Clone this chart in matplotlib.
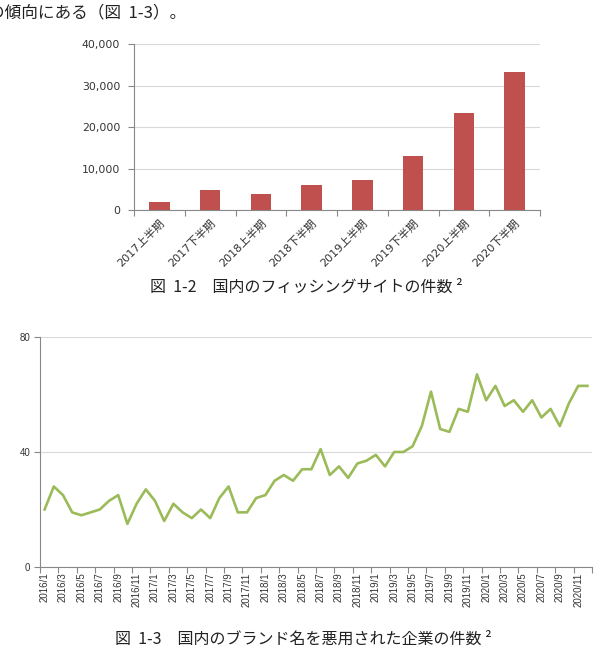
import matplotlib
matplotlib.use("Agg")
import matplotlib.pyplot as plt
import numpy as np

plt.rcParams['font.family'] = ['DejaVu Sans', 'Noto Sans CJK JP']

# ---- data: phishing sites (figure 1-2)
bar_labels = ["2017上半期", "2017下半期", "2018上半期", "2018下半期",
              "2019上半期", "2019下半期", "2020上半期", "2020下半期"]
bar_values = [1850, 4900, 3850, 6000, 7300, 13100, 23300, 33300]
bar_yticks = [0, 10000, 20000, 30000, 40000]

# ---- data: abused brand companies (figure 1-3), 2016/1 .. 2020/12
months = [f"{y}/{m}" for y in range(2016, 2021) for m in range(1, 13)]
brand_counts = [20, 28, 25, 19, 18, 19, 20, 23, 25, 15, 22, 27,
                23, 16, 22, 19, 17, 20, 17, 24, 28, 19, 19, 24,
                25, 30, 32, 30, 34, 34, 41, 32, 35, 31, 36, 37,
                39, 35, 40, 40, 42, 49, 61, 48, 47, 55, 54, 67,
                58, 63, 56, 58, 54, 58, 52, 55, 49, 57, 63, 63]
line_yticks = [0, 40, 80]

intro_text = "の傾向にある（図  1-3）。"
caption1 = "図  1-2　国内のフィッシングサイトの件数 ²"
caption2 = "図  1-3　国内のブランド名を悪用された企業の件数 ²"

W, H = 597, 654
fig = plt.figure(figsize=(W / 100, H / 100), dpi=100)

def fx(px):
    return px / W

def fy(py):
    return 1 - py / H

cjk = ['Noto Sans CJK JP', 'DejaVu Sans']

# intro text (partly cut at left, as in the source)
fig.text(fx(-12), fy(13), intro_text, fontsize=12, family=cjk,
         ha='left', va='center', color='#222222')

# ---------------- bar chart ----------------
ax1 = fig.add_axes([fx(134), fy(210), fx(540) - fx(134), fy(44.3) - fy(210)])
x = np.arange(len(bar_values))
ax1.bar(x, bar_values, width=0.4, color='#C0504D', zorder=3)
ax1.set_xlim(-0.5, len(bar_values) - 0.5)
ax1.set_ylim(0, 40000)
ax1.set_yticks(bar_yticks)
ax1.set_yticklabels([f"{v:,}" for v in bar_yticks], fontsize=7.8, color='#333333')
ax1.yaxis.grid(True, color='#D9D9D9', linewidth=0.8, zorder=0)
ax1.set_xticks(np.arange(len(bar_values) + 1) - 0.5)
ax1.set_xticklabels([])
ax1.set_xticks(x, minor=True)
ax1.set_xticklabels(bar_labels, minor=True, rotation=45, ha='right',
                    va='top', rotation_mode='anchor', fontsize=8,
                    color='#333333')
ax1.tick_params(axis='x', which='major', length=4, color='#888888')
ax1.tick_params(axis='x', which='minor', length=0, pad=6)
ax1.tick_params(axis='y', length=4, color='#888888', pad=6)
for s in ['top', 'right']:
    ax1.spines[s].set_visible(False)
for s in ['left', 'bottom']:
    ax1.spines[s].set_color('#888888')
    ax1.spines[s].set_linewidth(0.8)

fig.text(fx(306), fy(287), caption1, fontsize=11.5, family=cjk,
         ha='center', va='center', color='#222222')

# ---------------- line chart ----------------
ax2 = fig.add_axes([fx(40), fy(567), fx(592) - fx(40), fy(337) - fy(567)])
xi = np.arange(len(brand_counts))
ax2.plot(xi, brand_counts, color='#9BBB59', linewidth=1.9, zorder=3)
ax2.set_xlim(-0.5, len(brand_counts) - 0.5)
ax2.set_ylim(0, 80)
ax2.set_yticks(line_yticks)
ax2.set_yticklabels([str(v) for v in line_yticks], fontsize=7,
                    family=['Liberation Sans'], color='#333333')
ax2.yaxis.grid(True, color='#D9D9D9', linewidth=0.8, zorder=0)
ax2.set_xticks(np.arange(-0.5, len(brand_counts), 2))
ax2.set_xticklabels([])
ax2.set_xticks(xi[::2], minor=True)
ax2.set_xticklabels(months[::2], minor=True, rotation=90, fontsize=7,
                    family=['Liberation Sans'], color='#333333')
ax2.tick_params(axis='x', which='major', length=4, color='#888888')
ax2.tick_params(axis='x', which='minor', length=0, pad=4)
ax2.tick_params(axis='y', length=4, color='#888888', pad=3)
for s in ['top', 'right']:
    ax2.spines[s].set_visible(False)
for s in ['left', 'bottom']:
    ax2.spines[s].set_color('#888888')
    ax2.spines[s].set_linewidth(0.8)

fig.text(fx(303), fy(639), caption2, fontsize=11.5, family=cjk,
         ha='center', va='center', color='#222222')

fig.savefig("out.png", dpi=100)
